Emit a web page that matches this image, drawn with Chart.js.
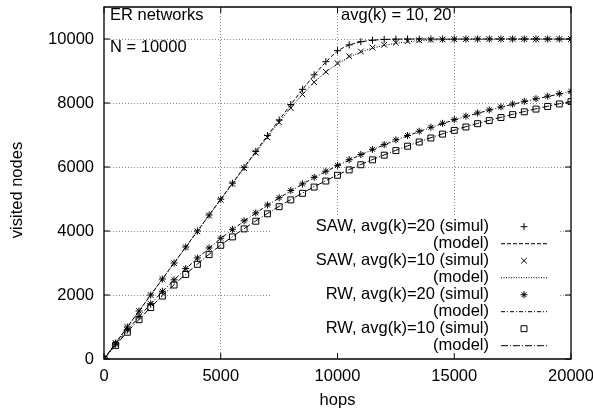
<!DOCTYPE html>
<html>
<head>
<meta charset="utf-8">
<script src="https://cdn.jsdelivr.net/npm/chart.js@4.4.1/dist/chart.umd.min.js"></script>
<style>
  body { margin: 0; background: #fff; }
  #wrap { width: 593px; height: 416px; }
</style>
</head>
<body>
<div id="wrap"><canvas id="walkChart" width="593" height="416"></canvas></div>
<script>
// hops (eje x), un punto cada 500
const hops = [0, 500, 1000, 1500, 2000, 2500, 3000, 3500, 4000, 4500, 5000, 5500, 6000, 6500, 7000, 7500,
  8000, 8500, 9000, 9500, 10000, 10500, 11000, 11500, 12000, 12500, 13000, 13500, 14000, 14500, 15000,
  15500, 16000, 16500, 17000, 17500, 18000, 18500, 19000, 19500, 20000];

// SAW, avg(k)=20
const sawK20Simul = [0, 500, 1000, 1500, 2000, 2500, 3000, 3500, 4000, 4500, 4995, 5495, 5990, 6488, 6982, 7468,
  7955, 8428, 8880, 9290, 9635, 9818, 9915, 9962, 9988, 9996, 9999, 10000, 10000, 10000, 10000,
  10000, 10000, 10000, 10000, 10000, 10000, 10000, 10000, 10000, 10000];
const sawK20Model = [0, 500, 1000, 1500, 2000, 2500, 3000, 3499, 3998, 4497, 4996, 5494, 5991, 6487, 6980, 7470,
  7950, 8420, 8870, 9280, 9620, 9810, 9910, 9960, 9985, 9995, 9999, 10000, 10000, 10000, 10000,
  10000, 10000, 10000, 10000, 10000, 10000, 10000, 10000, 10000, 10000];

// SAW, avg(k)=10
const sawK10Simul = [0, 500, 999, 1499, 1998, 2496, 2995, 3492, 3989, 4485, 4980, 5472, 5962, 6448, 6925, 7395,
  7845, 8268, 8650, 8975, 9245, 9460, 9610, 9730, 9820, 9885, 9930, 9960, 9978, 9988, 9994,
  9997, 9999, 10000, 10000, 10000, 10000, 10000, 10000, 10000, 10000];
const sawK10Model = [0, 500, 999, 1499, 1998, 2497, 2995, 3493, 3990, 4486, 4981, 5474, 5964, 6450, 6930, 7400,
  7850, 8270, 8640, 8960, 9220, 9430, 9590, 9710, 9800, 9865, 9912, 9945, 9965, 9979, 9988,
  9993, 9996, 9998, 9999, 10000, 10000, 10000, 10000, 10000, 10000];

// RW, avg(k)=20
const rwK20Simul = [0, 468, 908, 1330, 1728, 2115, 2475, 2826, 3158, 3470, 3775, 4052, 4318, 4566, 4812, 5040,
  5265, 5472, 5678, 5866, 6050, 6228, 6390, 6552, 6700, 6848, 6983, 7118, 7242, 7365, 7480,
  7590, 7688, 7785, 7878, 7968, 8052, 8135, 8212, 8290, 8362];
const rwK20Model = [0, 461, 901, 1320, 1720, 2102, 2466, 2814, 3145, 3461, 3762, 4040, 4305, 4558, 4800, 5032,
  5253, 5464, 5666, 5858, 6042, 6216, 6382, 6540, 6692, 6837, 6975, 7108, 7235, 7356, 7472,
  7578, 7679, 7776, 7870, 7959, 8044, 8126, 8204, 8280, 8352];

// RW, avg(k)=10
const rwK10Simul = [0, 425, 835, 1228, 1606, 1966, 2312, 2642, 2958, 3262, 3552, 3815, 4066, 4306, 4538, 4760,
  4972, 5177, 5373, 5562, 5742, 5910, 6070, 6224, 6370, 6513, 6650, 6780, 6906, 7028, 7144,
  7250, 7353, 7451, 7546, 7637, 7725, 7810, 7892, 7970, 8045];
const rwK10Model = [0, 430, 842, 1237, 1614, 1975, 2320, 2651, 2967, 3270, 3560, 3822, 4074, 4315, 4547, 4769,
  4982, 5186, 5383, 5571, 5752, 5918, 6078, 6232, 6379, 6522, 6658, 6789, 6915, 7036, 7152,
  7259, 7361, 7459, 7554, 7645, 7733, 7818, 7899, 7977, 8052];

// ticks
const xTickValues = [0, 5000, 10000, 15000, 20000];
const yTickValues = [0, 2000, 4000, 6000, 8000, 10000];

const legendLabels = [
  "SAW, avg(k)=20 (simul)", "(model)",
  "SAW, avg(k)=10 (simul)", "(model)",
  "RW, avg(k)=20 (simul)", "(model)",
  "RW, avg(k)=10 (simul)", "(model)"
];

const FONT = "'Liberation Sans', Arial, Helvetica, sans-serif";
Chart.defaults.font.family = FONT;
Chart.defaults.font.size = 16.5;
Chart.defaults.color = '#000';

function toPoints(values) {
  return values.map((v, i) => ({ x: hops[i], y: v }));
}

function simulSet(label, values, style, radius) {
  return {
    label: label,
    data: toPoints(values),
    showLine: false,
    pointStyle: style,
    pointRadius: radius,
    pointBorderColor: '#000',
    pointBackgroundColor: 'rgba(0,0,0,0)',
    pointBorderWidth: 1,
    borderColor: '#000'
  };
}

function modelSet(label, values, dash) {
  return {
    label: label,
    data: toPoints(values),
    showLine: true,
    pointRadius: 0,
    borderColor: '#000',
    borderWidth: 1,
    borderDash: dash,
    cubicInterpolationMode: 'monotone',
    fill: false
  };
}

const datasets = [
  simulSet(legendLabels[0], sawK20Simul, 'cross', 3.5),
  modelSet(legendLabels[1], sawK20Model, [4, 2]),
  simulSet(legendLabels[2], sawK10Simul, 'crossRot', 4),
  modelSet(legendLabels[3], sawK10Model, [1, 1.5]),
  simulSet(legendLabels[4], rwK20Simul, 'star', 3.5),
  modelSet(legendLabels[5], rwK20Model, [4, 2, 1, 2]),
  simulSet(legendLabels[6], rwK10Simul, 'rect', 4.2),
  modelSet(legendLabels[7], rwK10Model, [7, 2, 1, 2])
];

// marco, ticks interiores, leyenda estilo gnuplot y textos
const framePlugin = {
  id: 'frame',
  beforeDatasetsDraw(chart) {
    const ctx = chart.ctx;
    // fondo blanco de la leyenda (tapa la rejilla)
    ctx.save();
    ctx.fillStyle = '#fff';
    ctx.fillRect(270, 217, 288, 140);
    ctx.restore();
  },
  afterDraw(chart) {
    const ctx = chart.ctx;
    const a = chart.chartArea;
    const xs = chart.scales.x, ys = chart.scales.y;
    ctx.save();
    ctx.globalAlpha = 1;
    ctx.globalCompositeOperation = 'source-over';
    ctx.strokeStyle = '#000';
    ctx.lineWidth = 1.3;
    ctx.setLineDash([]);
    ctx.beginPath();
    ctx.moveTo(a.left, a.top);
    ctx.lineTo(a.right, a.top);
    ctx.lineTo(a.right, a.bottom);
    ctx.lineTo(a.left, a.bottom);
    ctx.closePath();
    ctx.stroke();
    ctx.lineWidth = 1;
    const tl = 6;
    xTickValues.forEach(v => {
      const px = xs.getPixelForValue(v);
      ctx.beginPath();
      ctx.moveTo(px, a.bottom); ctx.lineTo(px, a.bottom - tl);
      ctx.moveTo(px, a.top); ctx.lineTo(px, a.top + tl);
      ctx.stroke();
    });
    yTickValues.forEach(v => {
      const py = ys.getPixelForValue(v);
      ctx.beginPath();
      ctx.moveTo(a.left, py); ctx.lineTo(a.left + tl, py);
      ctx.moveTo(a.right, py); ctx.lineTo(a.right - tl, py);
      ctx.stroke();
    });

    // leyenda
    ctx.font = '16.5px ' + FONT;
    ctx.fillStyle = '#000';
    ctx.textBaseline = 'middle';
    ctx.textAlign = 'right';
    const rowY = 226.7, rowH = 17;
    const lineX1 = 501, lineX2 = 547, markX = 524;
    datasets.forEach((ds, i) => {
      const y = rowY + i * rowH;
      ctx.fillText(legendLabels[i], 489, y);
      ctx.save();
      ctx.lineWidth = 1;
      ctx.strokeStyle = '#000';
      if (ds.showLine) {
        ctx.setLineDash(ds.borderDash);
        ctx.beginPath();
        ctx.moveTo(lineX1, y); ctx.lineTo(lineX2, y);
        ctx.stroke();
      } else {
        ctx.fillStyle = 'rgba(0,0,0,0)';
        Chart.helpers.drawPoint(ctx, {
          pointStyle: ds.pointStyle, radius: ds.pointRadius, rotation: 0, borderWidth: 1
        }, markX, y);
      }
      ctx.restore();
    });

    // textos del grafico
    ctx.textAlign = 'left';
    ctx.fillText('ER networks', 110, 15);
    ctx.fillText('N = 10000', 110, 47);
    ctx.fillText('avg(k) = 10, 20', 341, 15);

    // titulos de ejes
    ctx.textAlign = 'center';
    ctx.fillText('hops', (a.left + a.right) / 2, 400);
    ctx.translate(17, 190);
    ctx.rotate(-Math.PI / 2);
    ctx.fillText('visited nodes', 0, 0);
    ctx.restore();
  }
};

function createWalkChart() {
  const ctx = document.getElementById('walkChart').getContext('2d');
  new Chart(ctx, {
    type: 'scatter',
    data: { datasets: datasets },
    plugins: [framePlugin],
    options: {
      responsive: false,
      animation: false,
      layout: { padding: { top: 7, right: 22, left: 0, bottom: 0 } },
      plugins: { legend: { display: false }, tooltip: { enabled: false } },
      scales: {
        x: {
          type: 'linear',
          min: 0,
          max: 20000,
          afterBuildTicks: s => { s.ticks = xTickValues.map(v => ({ value: v })); },
          afterFit: s => { s.height = 57; s.paddingLeft = 0; s.paddingRight = 0; },
          ticks: { padding: 8, maxRotation: 0, autoSkip: false, callback: v => String(v) },
          grid: {
            drawTicks: false,
            color: c => (c.tick && (c.tick.value === 0 || c.tick.value === 20000)) ? 'rgba(0,0,0,0)' : '#8a8a8a',
            lineWidth: 1
          },
          border: { display: false, dash: [1, 2] }
        },
        y: {
          type: 'linear',
          min: 0,
          max: 11000,
          afterBuildTicks: s => { s.ticks = yTickValues.map(v => ({ value: v })); },
          afterFit: s => { s.width = 104; s.paddingTop = 0; s.paddingBottom = 0; },
          ticks: { padding: 10, autoSkip: false, callback: v => String(v) },
          grid: {
            drawTicks: false,
            color: c => (c.tick && c.tick.value === 0) ? 'rgba(0,0,0,0)' : '#8a8a8a',
            lineWidth: 1
          },
          border: { display: false, dash: [1, 2] }
        }
      }
    }
  });
}

document.addEventListener('DOMContentLoaded', function() {
  createWalkChart();
});
</script>
</body>
</html>
